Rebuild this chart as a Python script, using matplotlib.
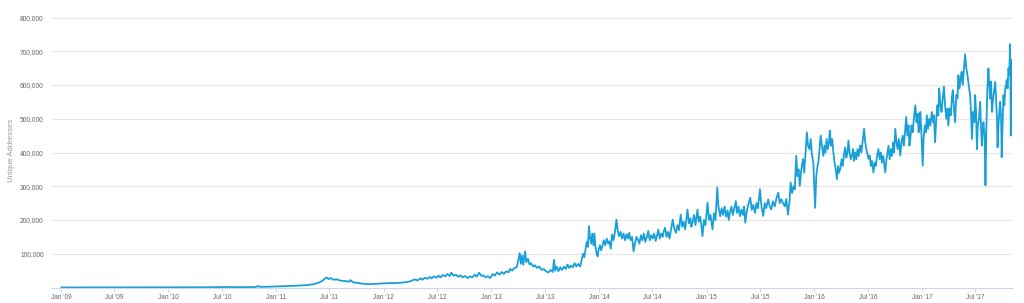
import matplotlib
matplotlib.use("Agg")
import matplotlib.pyplot as plt
import numpy as np
import pandas as pd

# ---- data (values in thousands of unique addresses) ----
dates_2009_2011 = ['2009-01-03', '2009-03-01', '2009-06-01', '2009-09-01', '2009-12-01',
                   '2010-03-01', '2010-06-01', '2010-07-15', '2010-09-01', '2010-10-25',
                   '2010-11-01', '2010-11-08', '2010-12-15', '2011-01-15', '2011-02-15',
                   '2011-03-15', '2011-04-15', '2011-05-10', '2011-05-25', '2011-06-08',
                   '2011-06-15', '2011-06-22', '2011-06-28', '2011-07-05', '2011-07-15',
                   '2011-07-25', '2011-08-10', '2011-08-25', '2011-09-05', '2011-09-10',
                   '2011-09-20', '2011-10-10', '2011-10-25', '2011-11-10', '2011-11-25',
                   '2011-12-10', '2011-12-25']
vals_2009_2011 = [0.1, 0.2, 0.3, 0.4, 0.5,
                  0.6, 0.8, 1.5, 1.0, 1.5,
                  4.5, 1.8, 2.5, 3.5, 4.5,
                  5.5, 7, 10, 14, 20,
                  26, 30, 25, 28, 23,
                  24, 20, 19, 17, 22,
                  15, 13, 11, 10, 10.5,
                  11, 12]

dates_2012 = ['2012-01-10', '2012-01-25', '2012-02-10', '2012-02-25', '2012-03-10', '2012-03-25',
              '2012-04-05', '2012-04-15', '2012-04-25', '2012-05-05', '2012-05-12', '2012-05-20',
              '2012-05-28', '2012-06-05', '2012-06-12', '2012-06-20', '2012-06-28', '2012-07-05',
              '2012-07-12', '2012-07-20', '2012-07-28', '2012-08-05', '2012-08-12', '2012-08-18',
              '2012-08-25', '2012-09-02', '2012-09-10', '2012-09-18', '2012-09-26', '2012-10-04',
              '2012-10-12', '2012-10-20', '2012-10-28', '2012-11-05', '2012-11-12', '2012-11-20',
              '2012-11-28', '2012-12-05', '2012-12-12', '2012-12-20', '2012-12-28']
vals_2012 = [12.5, 13, 13, 14, 15, 17,
             20, 24, 21, 27, 23, 29,
             26, 31, 27, 33, 29, 35,
             30, 37, 33, 40, 34, 44,
             35, 38, 32, 36, 30, 34,
             28, 33, 30, 38, 32, 44,
             34, 36, 30, 33, 28]

dates_2013 = ['2013-01-05', '2013-01-12', '2013-01-20', '2013-01-28', '2013-02-05', '2013-02-12',
              '2013-02-20', '2013-02-28', '2013-03-05', '2013-03-12', '2013-03-20', '2013-03-28',
              '2013-04-03', '2013-04-07', '2013-04-11', '2013-04-15', '2013-04-19', '2013-04-25',
              '2013-04-29', '2013-05-05', '2013-05-10', '2013-05-16', '2013-05-22', '2013-05-28',
              '2013-06-05', '2013-06-12', '2013-06-20', '2013-06-28', '2013-07-05', '2013-07-12',
              '2013-07-20', '2013-07-28', '2013-08-01', '2013-08-05', '2013-08-10', '2013-08-16',
              '2013-08-22', '2013-08-28', '2013-09-04', '2013-09-10', '2013-09-16', '2013-09-22',
              '2013-09-28', '2013-10-04', '2013-10-10', '2013-10-16', '2013-10-22', '2013-10-29',
              '2013-11-03', '2013-11-08', '2013-11-12', '2013-11-16', '2013-11-20', '2013-11-24',
              '2013-11-28', '2013-12-01', '2013-12-05', '2013-12-09', '2013-12-13', '2013-12-16',
              '2013-12-20', '2013-12-24', '2013-12-27', '2013-12-30']
vals_2013 = [40, 35, 45, 38, 46, 40,
             48, 45, 55, 50, 58, 60,
             85, 102, 70, 95, 67, 107,
             75, 85, 68, 72, 62, 66,
             58, 62, 52, 55, 48, 44,
             52, 46, 82, 50, 62, 48,
             60, 52, 62, 55, 68, 58,
             65, 60, 72, 62, 70, 62,
             82, 100, 90, 112, 135, 120,
             182, 150, 130, 160, 125, 160,
             120, 100, 92, 110]

dates_2014 = ['2014-01-04', '2014-01-08', '2014-01-12', '2014-01-17', '2014-01-22', '2014-01-27',
              '2014-02-01', '2014-02-05', '2014-02-10', '2014-02-14', '2014-02-19', '2014-02-24',
              '2014-03-01', '2014-03-05', '2014-03-10', '2014-03-15', '2014-03-20', '2014-03-25',
              '2014-03-30', '2014-04-04', '2014-04-09', '2014-04-13', '2014-04-18', '2014-04-23',
              '2014-04-28', '2014-05-03', '2014-05-08', '2014-05-13', '2014-05-18', '2014-05-23',
              '2014-05-28', '2014-06-02', '2014-06-07', '2014-06-12', '2014-06-17', '2014-06-22',
              '2014-06-27', '2014-07-02', '2014-07-07', '2014-07-12', '2014-07-17', '2014-07-21',
              '2014-07-26', '2014-07-31', '2014-08-05', '2014-08-09', '2014-08-13', '2014-08-18',
              '2014-08-23', '2014-08-28', '2014-09-02', '2014-09-08', '2014-09-13', '2014-09-19',
              '2014-09-24', '2014-09-29', '2014-10-05', '2014-10-10', '2014-10-15', '2014-10-20',
              '2014-10-24', '2014-10-28', '2014-11-02', '2014-11-07', '2014-11-10', '2014-11-14',
              '2014-11-19', '2014-11-24', '2014-12-01', '2014-12-05', '2014-12-10', '2014-12-14',
              '2014-12-18', '2014-12-23', '2014-12-28']
vals_2014 = [125, 110, 122, 140, 125, 145,
             130, 137, 115, 157, 140, 165,
             201, 170, 152, 165, 145, 160,
             140, 158, 145, 162, 140, 150,
             107, 130, 150, 142, 130, 155,
             140, 160, 135, 150, 167, 140,
             155, 145, 160, 138, 155, 172,
             145, 160, 150, 168, 177, 150,
             165, 145, 170, 201, 175, 162,
             185, 170, 216, 180, 195, 172,
             200, 231, 190, 205, 180, 192,
             215, 185, 231, 195, 210, 185,
             152, 200, 185]

dates_2015 = ['2015-01-04', '2015-01-09', '2015-01-14', '2015-01-21', '2015-01-26', '2015-01-31',
              '2015-02-06', '2015-02-10', '2015-02-16', '2015-02-21', '2015-02-26', '2015-03-03',
              '2015-03-08', '2015-03-13', '2015-03-17', '2015-03-21', '2015-03-26', '2015-03-31',
              '2015-04-05', '2015-04-10', '2015-04-14', '2015-04-19', '2015-04-24', '2015-04-29',
              '2015-05-04', '2015-05-08', '2015-05-12', '2015-05-17', '2015-05-22', '2015-05-29',
              '2015-06-03', '2015-06-08', '2015-06-14', '2015-06-19', '2015-06-24', '2015-07-01',
              '2015-07-06', '2015-07-12', '2015-07-17', '2015-07-22', '2015-07-29', '2015-08-03',
              '2015-08-08', '2015-08-14', '2015-08-20', '2015-08-26', '2015-09-01', '2015-09-06',
              '2015-09-11', '2015-09-17', '2015-09-23', '2015-09-28', '2015-10-04', '2015-10-09',
              '2015-10-13', '2015-10-18', '2015-10-23', '2015-10-27', '2015-11-01', '2015-11-05',
              '2015-11-09', '2015-11-13', '2015-11-17', '2015-11-20', '2015-11-24', '2015-11-28',
              '2015-12-02', '2015-12-07', '2015-12-11', '2015-12-16', '2015-12-20', '2015-12-24',
              '2015-12-29']
vals_2015 = [251, 200, 215, 172, 220, 200,
             296, 240, 211, 235, 215, 240,
             210, 228, 200, 221, 240, 215,
             235, 256, 221, 240, 211, 231,
             215, 240, 192, 225, 245, 266,
             230, 245, 221, 250, 235, 291,
             240, 212, 250, 235, 261, 240,
             231, 255, 240, 265, 281, 250,
             262, 251, 240, 262, 216, 255,
             311, 280, 300, 291, 390, 330,
             350, 301, 340, 360, 381, 340,
             390, 460, 420, 410, 440, 395,
             370]

dates_2016 = ['2016-01-04', '2016-01-08', '2016-01-12', '2016-01-15', '2016-01-19', '2016-01-23',
              '2016-01-27', '2016-02-01', '2016-02-05', '2016-02-08', '2016-02-12', '2016-02-16',
              '2016-02-20', '2016-02-23', '2016-02-27', '2016-03-02', '2016-03-06', '2016-03-10',
              '2016-03-14', '2016-03-18', '2016-03-22', '2016-03-25', '2016-03-29', '2016-04-03',
              '2016-04-07', '2016-04-11', '2016-04-15', '2016-04-19', '2016-04-23', '2016-04-26',
              '2016-04-30', '2016-05-04', '2016-05-08', '2016-05-12', '2016-05-15', '2016-05-19',
              '2016-05-23', '2016-05-27', '2016-05-31', '2016-06-05', '2016-06-09', '2016-06-14',
              '2016-06-18', '2016-06-22', '2016-06-26', '2016-07-03', '2016-07-07', '2016-07-11',
              '2016-07-15', '2016-07-20', '2016-07-24', '2016-07-28', '2016-08-01', '2016-08-06',
              '2016-08-10', '2016-08-14', '2016-08-18', '2016-08-22', '2016-08-29', '2016-09-02',
              '2016-09-05', '2016-09-09', '2016-09-13', '2016-09-17', '2016-09-21', '2016-09-25',
              '2016-09-28', '2016-10-02', '2016-10-06', '2016-10-10', '2016-10-14', '2016-10-19',
              '2016-10-23', '2016-10-27', '2016-10-31', '2016-11-04', '2016-11-08', '2016-11-12',
              '2016-11-16', '2016-11-19', '2016-11-22', '2016-11-26', '2016-11-30', '2016-12-04',
              '2016-12-09', '2016-12-13', '2016-12-17', '2016-12-20', '2016-12-23', '2016-12-26',
              '2016-12-30']
vals_2016 = [236, 330, 360, 371, 410, 450,
             420, 390, 420, 400, 440, 410,
             430, 465, 420, 440, 400, 370,
             350, 321, 360, 340, 351, 380,
             360, 395, 415, 385, 400, 435,
             400, 380, 390, 410, 375, 400,
             380, 410, 390, 421, 400, 440,
             470, 430, 410, 381, 391, 360,
             375, 341, 370, 360, 390, 410,
             380, 400, 370, 390, 341, 380,
             395, 420, 380, 410, 390, 430,
             400, 470, 430, 410, 440, 391,
             430, 450, 420, 460, 505, 450,
             480, 420, 440, 480, 460, 500,
             540, 490, 515, 460, 470, 520,
             450]

dates_2017 = ['2017-01-03', '2017-01-06', '2017-01-10', '2017-01-14', '2017-01-17', '2017-01-21',
              '2017-01-25', '2017-01-29', '2017-02-03', '2017-02-07', '2017-02-10', '2017-02-14',
              '2017-02-18', '2017-02-22', '2017-02-25', '2017-02-28', '2017-03-04', '2017-03-08',
              '2017-03-12', '2017-03-16', '2017-03-20', '2017-03-24', '2017-03-28', '2017-03-31',
              '2017-04-04', '2017-04-08', '2017-04-12', '2017-04-15', '2017-04-19', '2017-04-23',
              '2017-04-27', '2017-05-01', '2017-05-04', '2017-05-08', '2017-05-12', '2017-05-15',
              '2017-05-19', '2017-05-23', '2017-05-27', '2017-05-31', '2017-06-04', '2017-06-08',
              '2017-06-13', '2017-06-16', '2017-06-19', '2017-06-23', '2017-06-27', '2017-06-30',
              '2017-07-03', '2017-07-06', '2017-07-09', '2017-07-13', '2017-07-17', '2017-07-20',
              '2017-07-23', '2017-07-26', '2017-07-28', '2017-08-01', '2017-08-04', '2017-08-07',
              '2017-08-10', '2017-08-14', '2017-08-17', '2017-08-20', '2017-08-23', '2017-08-26',
              '2017-08-30', '2017-09-02', '2017-09-06', '2017-09-09', '2017-09-12', '2017-09-14',
              '2017-09-17', '2017-09-20', '2017-09-23', '2017-09-26', '2017-09-28', '2017-10-01',
              '2017-10-04', '2017-10-07', '2017-10-10', '2017-10-13', '2017-10-15', '2017-10-18',
              '2017-10-21', '2017-10-24', '2017-10-26', '2017-10-28', '2017-10-29', '2017-10-31',
              '2017-11-01']
vals_2017 = [361, 440, 480, 460, 510, 470,
             500, 480, 520, 490, 510, 430,
             500, 540, 510, 590, 540, 520,
             560, 595, 540, 500, 530, 480,
             530, 510, 560, 585, 530, 490,
             570, 560, 629, 590, 620, 639,
             600, 650, 691, 650, 629, 600,
             570, 520, 440, 520, 490, 570,
             520, 410, 480, 500, 550, 470,
             420, 470, 490, 450, 303, 470,
             580, 649, 600, 560, 610, 520,
             560, 580, 609, 560, 500, 415,
             480, 520, 550, 500, 386, 480,
             570, 540, 590, 600, 615, 590,
             650, 630, 721, 600, 450, 674,
             600]

date_parts = [dates_2009_2011, dates_2012, dates_2013, dates_2014, dates_2015, dates_2016, dates_2017]
val_parts = [vals_2009_2011, vals_2012, vals_2013, vals_2014, vals_2015, vals_2016, vals_2017]
for d, v in zip(date_parts, val_parts):
    assert len(d) == len(v), (d[0], len(d), len(v))

dates = pd.to_datetime(sum(date_parts, []))
values = np.array(sum(val_parts, []), dtype=float) * 1000

y_ticks = [100000, 200000, 300000, 400000, 500000, 600000, 700000, 800000]
y_label = "Unique Addresses"

# ---- figure ----
fig = plt.figure(figsize=(10.24, 3.03), dpi=100)
W, H = 1024, 303
ax = fig.add_axes([52 / W, 1 - 287.5 / H, 960 / W, 270 / H])

ax.plot(dates, values, color="#1aa0d8", lw=1.3, solid_joinstyle="round")

ax.set_ylim(0, 800000)
ax.set_xlim(pd.Timestamp("2008-12-02"), pd.Timestamp("2017-11-02"))

ax.set_yticks(y_ticks)
ax.set_yticklabels([f"{t:,}" for t in y_ticks])
ax.yaxis.grid(True, color="#e6e6e6", lw=0.8)
ax.set_axisbelow(True)

xt = pd.date_range("2009-01-01", "2017-07-01", freq="6MS")
ax.set_xticks(xt)
ax.set_xticklabels([d.strftime("%b '%y") for d in xt])

for s in ["top", "right", "left"]:
    ax.spines[s].set_visible(False)
ax.spines["bottom"].set_color("#ccd6eb")
ax.spines["bottom"].set_linewidth(0.8)

ax.tick_params(axis="y", length=0, pad=6, labelsize=4.8, labelcolor="#666666")
ax.tick_params(axis="x", length=3, width=0.7, color="#ccd6eb", pad=1.5,
               labelsize=4.7, labelcolor="#666666")
for lab in ax.get_xticklabels() + ax.get_yticklabels():
    lab.set_family("Liberation Sans")

fig.text(12 / W, 1 - 150 / H, y_label, rotation=90, ha="center", va="center",
         fontsize=5.6, color="#999999", family="Liberation Sans")

fig.savefig("out.png", dpi=100)
